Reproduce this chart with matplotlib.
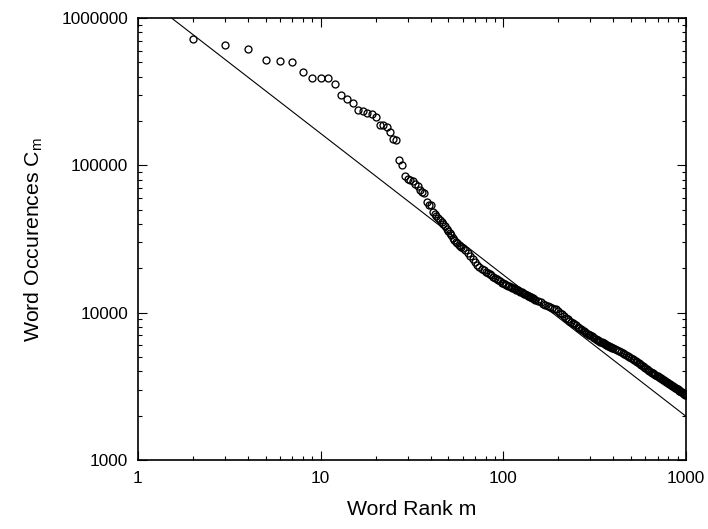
import numpy as np
import matplotlib
matplotlib.use("Agg")
import matplotlib.pyplot as plt
from matplotlib.ticker import LogLocator, FuncFormatter, NullFormatter

plt.rcParams['font.family'] = ['Liberation Sans', 'DejaVu Sans']

# ---------------------------------------------------------------
# donnees : rang du mot et nombre d'occurences
# ---------------------------------------------------------------

# rangs 1 a 60, un par un
rang_debut = list(range(1, 61))
occ_debut = [1500000, 717000, 651000, 615000, 520000, 507000, 505000, 427000, 389000, 390000,
             390000, 357000, 301000, 281000, 264000, 238000, 232000, 228000, 223000, 212000,
             187000, 187000, 181000, 169000, 151000, 148000, 109000, 100000, 84000, 81000,
             80000, 78000, 75000, 72000, 68000, 66000, 65000, 56000, 54000, 54000,
             48500, 47000, 45600, 44000, 42800, 41500, 40000, 38600, 37200, 36000,
             35000, 33500, 32000, 31000, 30200, 29500, 28900, 28300, 27800, 27300]

# rangs 62 a 150, de 2 en 2
rang_milieu = list(range(62, 151, 2))
occ_milieu = [26500, 25600, 24200, 23200, 22000, 21000, 20400, 19900, 19400, 19000,
              18600, 18200, 17900, 17500, 17200, 16900, 16600, 16300, 16000, 15800,
              15600, 15400, 15250, 15100, 14950, 14800, 14650, 14500, 14350, 14200,
              14050, 13900, 13750, 13600, 13450, 13300, 13200, 13050, 12900, 12800,
              12700, 12600, 12500, 12350, 12250]

# rangs 155 a 400, de 5 en 5
rang_suite = list(range(155, 401, 5))
occ_suite = [12000, 11750, 11500, 11300, 11100, 10900, 10750, 10650, 10550, 10300,
             10000, 9750, 9500, 9250, 9000, 8800, 8650, 8500, 8350, 8200,
             8050, 7900, 7750, 7600, 7500, 7400, 7300, 7200, 7100, 7000,
             6900, 6800, 6720, 6640, 6560, 6490, 6420, 6360, 6300, 6240,
             6180, 6120, 6060, 6000, 5950, 5900, 5860, 5830, 5800, 5760]

# rangs 410 a 1000, de 10 en 10
rang_fin = list(range(410, 1001, 10))
occ_fin = [5680, 5590, 5500, 5406, 5316, 5228, 5145, 5066, 4987, 4912,
           4840, 4770, 4700, 4620, 4543, 4468, 4395, 4326, 4259, 4193,
           4130, 4068, 4009, 3961, 3915, 3870, 3826, 3783, 3741, 3700,
           3661, 3622, 3584, 3548, 3511, 3476, 3442, 3404, 3367, 3331,
           3296, 3261, 3227, 3194, 3162, 3130, 3099, 3069, 3039, 3010,
           2982, 2954, 2926, 2900, 2873, 2848, 2822, 2798, 2773, 2750]

# droite d'ajustement (loi de puissance)
rang_ajust = [1, 1000]
occ_ajust = [1500000, 1980]

rangs = rang_debut + rang_milieu + rang_suite + rang_fin
occurences = occ_debut + occ_milieu + occ_suite + occ_fin

# ---------------------------------------------------------------
# trace
# ---------------------------------------------------------------

fig = plt.figure(figsize=(7.08, 5.29), dpi=100)
ax = fig.add_axes([138/708, 69/529, 548/708, 442/529])

ax.plot(rang_ajust, occ_ajust, color="black", lw=0.8)
ax.plot(rangs, occurences, "o", ms=5.0, mfc="none", mec="black", mew=0.95)

ax.set_xscale("log")
ax.set_yscale("log")
ax.set_xlim(1, 1000)
ax.set_ylim(1000, 1000000)

fmt = FuncFormatter(lambda v, p: "%d" % round(v))
ax.xaxis.set_major_locator(LogLocator(base=10, numticks=10))
ax.yaxis.set_major_locator(LogLocator(base=10, numticks=10))
ax.xaxis.set_minor_locator(LogLocator(base=10, subs=np.arange(2, 10), numticks=30))
ax.yaxis.set_minor_locator(LogLocator(base=10, subs=np.arange(2, 10), numticks=30))
ax.xaxis.set_major_formatter(fmt)
ax.yaxis.set_major_formatter(fmt)
ax.xaxis.set_minor_formatter(NullFormatter())
ax.yaxis.set_minor_formatter(NullFormatter())

ax.tick_params(which="both", direction="in", top=True, right=True, width=0.8, labelsize=12.4)
ax.tick_params(which="major", length=6.2)
ax.tick_params(which="minor", length=3.1)
ax.tick_params(axis="x", pad=8)
ax.tick_params(axis="y", pad=7)
for s in ax.spines.values():
    s.set_linewidth(1.2)

ax.set_xlabel("Word Rank m", fontsize=15.3, labelpad=10)
ax.set_ylabel(r"Word Occurences C$_\mathregular{m}$", fontsize=15.3, labelpad=12)

fig.savefig("out.png", dpi=100)
